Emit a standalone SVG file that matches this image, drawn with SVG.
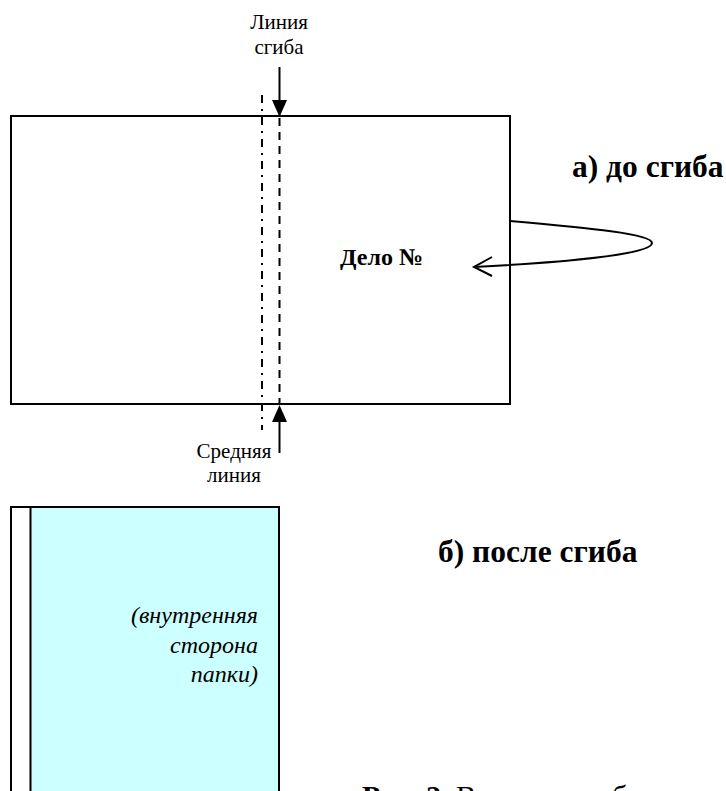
<svg xmlns="http://www.w3.org/2000/svg" width="726" height="791" viewBox="0 0 726 791">
<style>
.ln{fill:none;stroke:#000;stroke-width:2}
</style>
<rect width="726" height="791" fill="#fff"/>
<g id="sheet">
<rect x="11" y="116" width="499" height="288" class="ln"/>
<text x="340" y="265" style="font-family:'Liberation Serif',serif;font-weight:bold" font-size="24">Дело №</text>
</g>
<g id="folded">
<rect x="11" y="507" width="268" height="320" fill="#fff" stroke="#000" stroke-width="2"/>
<rect x="30.5" y="507" width="248.5" height="320" fill="#CCFFFF" stroke="#000" stroke-width="2"/>
<text style="font-family:'Liberation Serif',serif;font-style:italic" font-size="24" text-anchor="end"><tspan x="258" y="623">(внутренняя</tspan><tspan x="258" y="653">сторона</tspan><tspan x="258" y="682">папки)</tspan></text>
</g>
<g id="labels">
<text style="font-family:'Liberation Serif',serif" font-size="21" text-anchor="middle"><tspan x="279" y="29">Линия</tspan><tspan x="279" y="54">сгиба</tspan></text>
<text style="font-family:'Liberation Serif',serif" font-size="21" text-anchor="middle"><tspan x="234" y="458">Средняя</tspan><tspan x="234" y="482">линия</tspan></text>
<text x="572" y="177" style="font-family:'Liberation Serif',serif;font-weight:bold" font-size="31.5">а) до сгиба</text>
<text x="438" y="562" style="font-family:'Liberation Serif',serif;font-weight:bold" font-size="31.5">б) после сгиба</text>
<text x="362" y="806" style="font-family:'Liberation Serif',serif" font-size="30"><tspan font-weight="bold">Рис. 2.</tspan> Вариант сгиба</text>
</g>
<g id="connectors">
<line x1="262" y1="95" x2="262" y2="430" class="ln" stroke-dasharray="8 6 2 6"/>
<line x1="279.5" y1="118" x2="279.5" y2="404" class="ln" stroke-dasharray="8 6"/>
<line x1="279.5" y1="67" x2="279.5" y2="102" class="ln"/>
<polygon points="272,100 287,100 279.5,117"/>
<line x1="279.5" y1="420" x2="279.5" y2="453" class="ln"/>
<polygon points="272,422 287,422 279.5,405"/>
<path d="M510,221 C590,228 652,234 652,243 C652,254 570,262 474,267" class="ln"/>
<path d="M492,257 L474,267 L492,276" class="ln"/>
</g>
</svg>
